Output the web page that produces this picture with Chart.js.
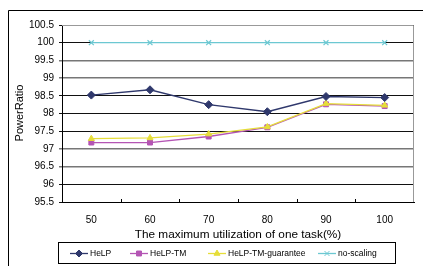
<!DOCTYPE html>
<html>
<head>
<meta charset="utf-8">
<script src="https://cdn.jsdelivr.net/npm/chart.js@4/dist/chart.umd.min.js"></script>
<style>
  html, body { margin: 0; padding: 0; background: #fff; }
  #wrap { width: 423px; height: 266px; }
</style>
</head>
<body>
<div id="wrap"><canvas id="c" width="423" height="266"></canvas></div>
<script>
const categories = ['50', '60', '70', '80', '90', '100']
const help = [98.52, 98.67, 98.25, 98.05, 98.48, 98.45]
const helpTm = [97.18, 97.18, 97.35, 97.61, 98.26, 98.21]
const helpTmGuarantee = [97.29, 97.31, 97.42, 97.62, 98.28, 98.23]
const noScaling = [100, 100, 100, 100, 100, 100]
const yMin = 95.5, yMax = 100.5, yStep = 0.5

const FONT = '"Liberation Sans", Arial, sans-serif'
const grayTicks = [99.5, 99, 97, 96.5]

function ds(label, data, color, style, order) {
  return {
    label, data, order,
    borderColor: color, backgroundColor: color,
    borderWidth: 1.3, pointStyle: style, pointRadius: 3.5,
    pointBorderWidth: style === 'crossRot' ? 1.2 : 1,
    tension: 0
  }
}

function drawMarker(ctx, style, x, y) {
  Chart.helpers.drawPoint(ctx, { pointStyle: style, radius: 3.5, borderWidth: 1.2 }, x, y)
}

// frame, x-axis inner ticks, axis titles and boxed legend
const decor = {
  id: 'decor',
  afterDraw(chart) {
    const ctx = chart.ctx, a = chart.chartArea
    ctx.save()
    ctx.strokeStyle = '#000'; ctx.lineWidth = 1
    ctx.beginPath()
    ctx.moveTo(8.5, 266); ctx.lineTo(8.5, 10.5); ctx.lineTo(423, 10.5)
    ctx.stroke()
    // plot border top/right in gray
    ctx.strokeStyle = '#999'
    ctx.beginPath()
    ctx.moveTo(a.left, a.top + 0.5); ctx.lineTo(a.right - 0.5, a.top + 0.5); ctx.lineTo(a.right - 0.5, a.bottom)
    ctx.stroke()
    // inward tick marks at category boundaries
    ctx.strokeStyle = '#000'
    const w = (a.right - a.left) / categories.length
    ctx.beginPath()
    for (let i = 1; i < categories.length; i++) {
      const x = Math.round(a.left + i * w) + 0.5
      ctx.moveTo(x, a.bottom); ctx.lineTo(x, a.bottom - 3)
    }
    ctx.stroke()
    // titles
    ctx.fillStyle = '#000'
    ctx.font = '11.8px ' + FONT
    ctx.textAlign = 'center'; ctx.textBaseline = 'middle'
    ctx.fillText('The maximum utilization of one task(%)', 238, 235)
    ctx.save()
    ctx.translate(20, 113); ctx.rotate(-Math.PI / 2)
    ctx.font = '11px ' + FONT
    ctx.fillText('PowerRatio', 0, 0)
    ctx.restore()
    // legend
    ctx.strokeStyle = '#000'
    ctx.strokeRect(58.5, 242.5, 337, 21)
    const xs0 = [70, 130, 208, 318]
    const ly = 253
    ctx.font = '8.5px ' + FONT
    ctx.textAlign = 'left'
    chart.data.datasets.slice().sort((p, q) => p.legendIdx - q.legendIdx).forEach((d, i) => {
      const x0 = xs0[i]
      ctx.strokeStyle = d.borderColor; ctx.fillStyle = d.backgroundColor; ctx.lineWidth = 1.3
      ctx.beginPath(); ctx.moveTo(x0, ly + 0.5); ctx.lineTo(x0 + 18, ly + 0.5); ctx.stroke()
      ctx.lineWidth = 1
      drawMarker(ctx, d.pointStyle, x0 + 9, ly + 0.5)
      ctx.fillStyle = '#000'
      ctx.fillText(d.label, x0 + 20, ly + 1)
    })
    ctx.restore()
  }
}

const datasets = [
  ds('no-scaling', noScaling, '#6cc8d2', 'crossRot', 4),
  ds('HeLP', help, '#2f386c', 'rectRot', 1),
  ds('HeLP-TM', helpTm, '#b455b4', 'rect', 3),
  ds('HeLP-TM-guarantee', helpTmGuarantee, '#e6de3a', 'triangle', 2)
]
datasets[0].legendIdx = 3; datasets[1].legendIdx = 0; datasets[2].legendIdx = 1; datasets[3].legendIdx = 2
datasets[1].pointRadius = 4

new Chart(document.getElementById('c'), {
  type: 'line',
  data: { labels: categories, datasets },
  options: {
    responsive: false,
    animation: false,
    layout: { padding: { left: 0, top: 25, right: 9, bottom: 0 } },
    plugins: { legend: { display: false }, tooltip: { enabled: false } },
    scales: {
      x: {
        offset: true,
        grid: { display: false, offset: true },
        border: { color: '#000', width: 1 },
        ticks: { color: '#000', font: { family: FONT, size: 10 }, padding: 4, maxRotation: 0 },
        afterFit(s) { s.height = 64 }
      },
      y: {
        min: yMin, max: yMax,
        grid: {
          color: c => grayTicks.includes(c.tick && c.tick.value) ? '#777' : '#111',
          lineWidth: c => grayTicks.includes(c.tick && c.tick.value) ? 1.5 : 1,
          tickLength: 3, drawTicks: true
        },
        border: { color: '#000', width: 1 },
        ticks: {
          stepSize: yStep, color: '#000', padding: 5,
          font: { family: FONT, size: 10 },
          callback: v => String(v)
        },
        afterFit(s) { s.width = 62 }
      }
    }
  },
  plugins: [decor]
})
</script>
</body>
</html>
